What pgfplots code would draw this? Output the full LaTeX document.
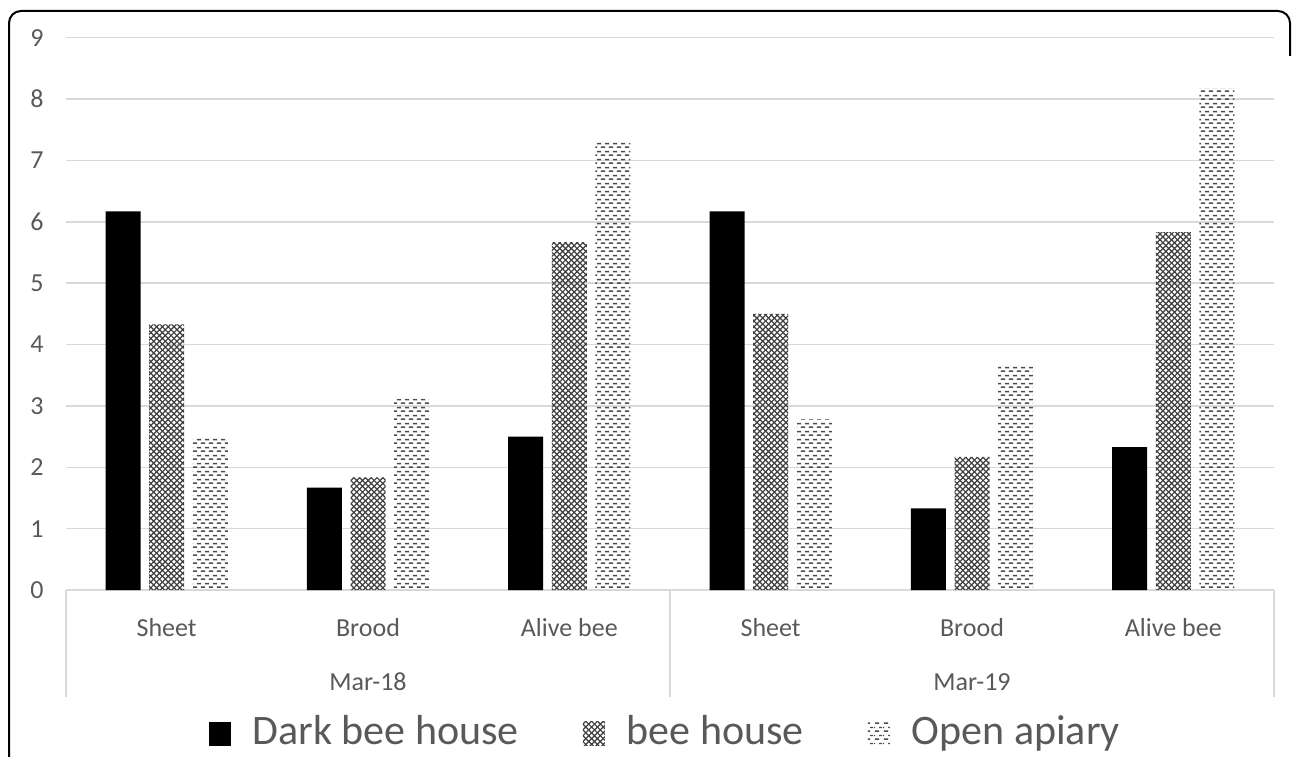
\documentclass[border=0pt]{standalone}
\usepackage{fontspec}
\setmainfont{Carlito}
\usepackage{pgfplots}
\pgfplotsset{compat=1.18}
\usepackage{pgfplotstable}
\usetikzlibrary{patterns}

\definecolor{gridgray}{HTML}{D9D9D9}
\definecolor{labelgray}{HTML}{595959}

\pgfdeclarepatternformonly{xhatch}{\pgfqpoint{-0.5pt}{-0.5pt}}{\pgfqpoint{3.4pt}{3.4pt}}{\pgfqpoint{2.9pt}{2.9pt}}{%
 \pgfsetlinewidth{0.6pt}%
 \pgfpathmoveto{\pgfqpoint{-0.2pt}{-0.2pt}}\pgfpathlineto{\pgfqpoint{3.1pt}{3.1pt}}%
 \pgfpathmoveto{\pgfqpoint{-0.2pt}{3.1pt}}\pgfpathlineto{\pgfqpoint{3.1pt}{-0.2pt}}%
 \pgfusepath{stroke}}

\pgfdeclarepatternformonly{hdash}{\pgfqpoint{0pt}{0pt}}{\pgfqpoint{4.2pt}{3.8pt}}{\pgfqpoint{4.2pt}{3.8pt}}{%
 \pgfsetlinewidth{0.75pt}%
 \pgfpathmoveto{\pgfqpoint{0.5pt}{0.95pt}}\pgfpathlineto{\pgfqpoint{2.7pt}{0.95pt}}%
 \pgfpathmoveto{\pgfqpoint{2.6pt}{2.85pt}}\pgfpathlineto{\pgfqpoint{4.2pt}{2.85pt}}%
 \pgfpathmoveto{\pgfqpoint{0pt}{2.85pt}}\pgfpathlineto{\pgfqpoint{0.6pt}{2.85pt}}%
 \pgfusepath{stroke}}

\pgfplotsset{sqlegend/.style={legend image code/.code={\path[##1] (0pt,-7pt) rectangle (11pt,5pt);}}}

\pgfplotstableread{
x y
0 6.17
1 1.67
2 2.50
3 6.17
4 1.33
5 2.33
}\darkdata
\pgfplotstableread{
x y
0 4.33
1 1.83
2 5.67
3 4.50
4 2.17
5 5.83
}\beedata
\pgfplotstableread{
x y
0 2.50
1 3.12
2 7.33
3 2.78
4 3.67
5 8.17
}\opendata

\begin{document}
\begin{tikzpicture}
\useasboundingbox (0,0) rectangle (646.5pt,378pt);
\begin{axis}[
 at={(33pt,83pt)}, anchor=south west,
 scale only axis, width=604pt, height=276.15pt,
 xmin=-0.5, xmax=5.5, ymin=0, ymax=9,
 ytick={0,...,9}, xtick={0,...,5},
 xticklabels={Sheet,Brood,Alive bee,Sheet,Brood,Alive bee},
 axis x line*=bottom, axis y line*=left,
 x axis line style={draw=gridgray, line width=0.75pt, -},
 y axis line style={draw=none, -},
 major tick length=0pt,
 ymajorgrids, grid style={draw=gridgray, line width=0.75pt},
 tick label style={font=\fontsize{13}{15}\selectfont, text=labelgray},
 /pgf/number format/assume math mode=true,
 yticklabel style={anchor=east, inner sep=0pt, xshift=-11pt},
 xticklabel style={anchor=base, inner sep=0pt, yshift=-23.3pt},
 ybar, bar width=17.5pt,
 clip=false,
 legend columns=3,
 legend style={at={(0.497,-0.294)}, anchor=south, draw=none, fill=none, inner sep=0pt,
   font=\fontsize{21}{25}\selectfont, text=labelgray,
   /tikz/every even column/.append style={column sep=30pt},
   /tikz/every odd column/.append style={column sep=9pt}},
]
\addplot[draw=none, fill=black, bar shift=-21.8pt, sqlegend] table[x=x,y=y]{\darkdata};
\addlegendentry{Dark bee house}
\addplot[draw=none, pattern=xhatch, pattern color=black!75, bar shift=0pt, sqlegend] table[x=x,y=y]{\beedata};
\addlegendentry{bee house}
\addplot[draw=none, pattern=hdash, pattern color=black!70, bar shift=21.8pt, sqlegend] table[x=x,y=y]{\opendata};
\addlegendentry{Open apiary}
\draw[gridgray, line width=0.75pt] (axis cs:-0.5,0) -- ++(0pt,-53.5pt);
\draw[gridgray, line width=0.75pt] (axis cs:2.5,0) -- ++(0pt,-53.5pt);
\draw[gridgray, line width=0.75pt] (axis cs:5.5,0) -- ++(0pt,-53.5pt);
\node[anchor=base, yshift=-50pt, font=\fontsize{13}{15}\selectfont, text=labelgray] at (axis cs:1,0) {Mar-18};
\node[anchor=base, yshift=-50pt, font=\fontsize{13}{15}\selectfont, text=labelgray] at (axis cs:4,0) {Mar-19};
\end{axis}
\draw[line width=1pt, rounded corners=6pt] (4.5pt,-5pt) -- (4.5pt,372.5pt) -- (645pt,372.5pt) -- (645pt,350pt);
\end{tikzpicture}
\end{document}
